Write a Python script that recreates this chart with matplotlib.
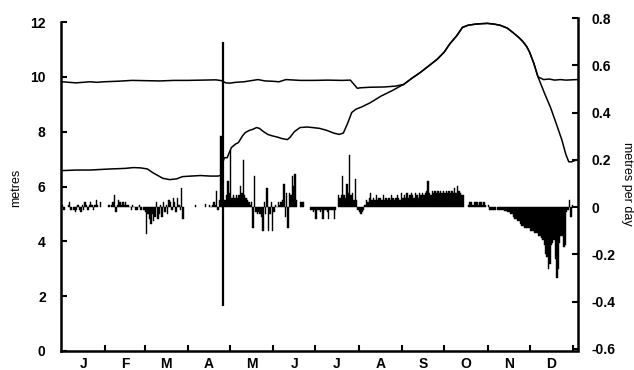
import matplotlib.pyplot as plt
import numpy as np

nan = np.nan

# month labels and lengths (days)
months = ['J', 'F', 'M', 'A', 'M', 'J', 'J', 'A', 'S', 'O', 'N', 'D']
month_len = [31, 28, 31, 30, 31, 30, 31, 31, 30, 31, 30, 31]

# upper level line (metres)
upper_day = [0, 5, 10, 15, 20, 25, 30, 40, 50, 60, 70, 80, 90, 100, 110, 114, 117, 120,
             124, 130, 140, 145, 150, 155, 160, 170, 180, 190, 200, 206, 207, 209, 211,
             213, 220, 230, 238, 244, 250, 256, 262, 268, 273, 277, 282, 286, 290, 295,
             300, 304, 309, 313, 318, 322, 326, 329, 332, 334, 337, 340, 342, 344, 348,
             352, 356, 360, 364, 368]
upper_m = [9.82, 9.8, 9.78, 9.8, 9.82, 9.8, 9.82, 9.84, 9.87, 9.86, 9.85, 9.87, 9.87, 9.88,
           9.89, 9.86, 9.78, 9.77, 9.8, 9.82, 9.9, 9.85, 9.84, 9.82, 9.9, 9.87, 9.87, 9.88,
           9.87, 9.88, 9.82, 9.7, 9.58, 9.6, 9.62, 9.63, 9.66, 9.72, 9.95, 10.16, 10.4,
           10.64, 10.9, 11.2, 11.5, 11.8, 11.88, 11.92, 11.94, 11.95, 11.92, 11.88, 11.78,
           11.62, 11.45, 11.3, 11.1, 10.9, 10.5, 10.0, 9.95, 9.9, 9.92, 9.88, 9.9, 9.88,
           9.89, 9.9]

# lower level line (metres)
lower_day = [0, 10, 20, 27, 35, 45, 51, 56, 61, 65, 72, 77, 82, 86, 92, 99, 106, 111, 114,
             115, 116, 118, 121, 124, 126, 129, 131, 134, 136, 139, 141, 144, 147, 150, 154,
             157, 161, 163, 166, 170, 175, 179, 184, 189, 194, 198, 201, 204, 207, 210, 214,
             220, 228, 236, 243, 244, 250, 256, 262, 268, 273, 277, 282, 286, 290, 295, 300,
             304, 309, 313, 318, 322, 326, 329, 332, 334, 337, 340, 345, 349, 353, 357, 360,
             362, 364, 368]
lower_m = [6.58, 6.6, 6.6, 6.62, 6.64, 6.66, 6.69, 6.68, 6.64, 6.5, 6.3, 6.25, 6.28, 6.36,
           6.38, 6.4, 6.38, 6.38, 6.4, 6.9, 7.05, 7.05, 7.42, 7.55, 7.6, 7.85, 7.97, 8.05,
           8.08, 8.15, 8.12, 8.0, 7.9, 7.85, 7.8, 7.75, 7.71, 7.8, 8.0, 8.15, 8.17, 8.15,
           8.12, 8.05, 7.95, 7.9, 7.95, 8.3, 8.7, 8.82, 8.9, 9.05, 9.3, 9.5, 9.7, 9.72, 9.95,
           10.16, 10.4, 10.64, 10.9, 11.2, 11.5, 11.8, 11.88, 11.92, 11.94, 11.95, 11.92,
           11.88, 11.78, 11.62, 11.45, 11.3, 11.1, 10.9, 10.5, 10.0, 9.36, 8.88, 8.3, 7.71,
           7.16, 6.9, 6.9, 6.98]

# daily change (metres per day), one value per day of each month
rate_jan = [0.01, -0.01, nan, nan, 0.01, 0.02, -0.01, nan, -0.01, -0.02,
            -0.01, 0.01, -0.01, -0.02, 0.01, -0.01, 0.02, 0.01, -0.01, 0.01,
            0.02, 0.01, -0.01, 0.01, 0.03, 0.01, nan, 0.02, nan, nan, nan]
rate_feb = [nan, nan, 0.01, nan, 0.01, 0.02, 0.05, -0.02, 0.01, 0.03,
            0.02, 0.01, 0.02, 0.01, 0.02, 0.01, 0.01, 0.0, -0.01, 0.01,
            0.0, -0.01, -0.01, 0.0, 0.01, -0.01, nan, -0.01]
rate_mar = [-0.02, -0.115, -0.03, -0.05, -0.07, -0.03, -0.06, -0.04, 0.02, -0.05,
            -0.03, 0.01, -0.04, 0.02, -0.02, 0.01, -0.03, 0.03, 0.02, -0.01,
            0.04, 0.02, -0.02, 0.04, 0.01, -0.01, 0.08, -0.05, nan, nan, nan]
rate_apr = [nan, nan, nan, nan, nan, 0.01, nan, nan, nan, nan,
            nan, nan, 0.015, nan, nan, 0.01, 0.0, 0.01, 0.02, 0.01,
            0.07, -0.01, 0.03, 0.30, 0.05, nan, 0.03, 0.05, 0.11, 0.06]
rate_may = [0.24, 0.04, 0.05, 0.04, 0.05, 0.04, 0.05, 0.09, 0.06, 0.20,
            0.05, 0.04, 0.03, 0.02, 0.01, 0.02, -0.09, 0.13, -0.02, -0.03,
            -0.02, -0.03, -0.04, -0.10, 0.02, -0.03, 0.08, -0.10, -0.03, 0.02, -0.10]
rate_jun = [-0.02, 0.01, 0.0, 0.02, 0.01, 0.02, 0.03, 0.10, -0.04, 0.06,
            -0.09, 0.06, 0.05, 0.13, 0.09, 0.14, 0.03, nan, nan, 0.02,
            0.02, 0.02, nan, nan, nan, nan, -0.01, -0.01, -0.02, -0.01]
rate_jul = [-0.05, -0.01, -0.01, -0.02, -0.01, -0.05, -0.01, -0.01, -0.02, -0.05,
            -0.01, -0.01, -0.01, -0.05, -0.01, nan, 0.05, 0.04, 0.05, 0.13,
            0.05, 0.04, 0.10, 0.06, 0.22, 0.05, 0.06, 0.03, 0.12, 0.03, -0.01]
rate_aug = [-0.02, -0.03, -0.02, -0.01, 0.01, 0.03, 0.02, 0.04, 0.06, 0.03,
            0.04, 0.03, 0.05, 0.03, 0.04, 0.04, 0.03, 0.05, 0.03, 0.04,
            0.03, 0.04, 0.03, 0.05, 0.04, 0.03, 0.04, 0.05, 0.04, 0.03, 0.06]
rate_sep = [0.04, 0.05, 0.04, 0.06, 0.04, 0.05, 0.06, 0.05, 0.04, 0.06,
            0.05, 0.04, 0.06, 0.05, 0.06, 0.05, 0.06, 0.07, 0.11, 0.06,
            0.05, 0.07, 0.06, 0.07, 0.06, 0.07, 0.06, 0.07, 0.06, 0.07]
rate_oct = [0.06, 0.07, 0.06, 0.07, 0.06, 0.07, 0.06, 0.08, 0.06, 0.09,
            0.07, 0.06, 0.05, 0.05, nan, nan, nan, 0.01, 0.02, 0.02,
            0.01, 0.02, 0.02, 0.02, 0.01, 0.02, 0.02, 0.01, 0.02, 0.01, nan]
rate_nov = [0.01, -0.01, -0.01, -0.01, -0.01, -0.01, nan, -0.01, -0.01, -0.01,
            -0.01, -0.01, -0.015, -0.015, -0.02, -0.02, -0.03, -0.03, -0.04, -0.05,
            -0.05, -0.06, -0.06, -0.07, -0.08, -0.08, -0.09, -0.09, -0.09, -0.09]
rate_dec = [-0.10, -0.10, -0.10, -0.11, -0.11, -0.11, -0.12, -0.12, -0.13, -0.14,
            -0.16, -0.20, -0.21, -0.26, -0.24, -0.16, -0.15, -0.14, -0.22, -0.30,
            -0.26, -0.15, -0.12, -0.12, -0.17, -0.16, -0.02, -0.01, 0.03, -0.04, 0.01]

# the single long spike in April
event_day = 115.3
event_low = -0.42
event_high = 0.70

rate = np.array(rate_jan + rate_feb + rate_mar + rate_apr + rate_may + rate_jun +
                rate_jul + rate_aug + rate_sep + rate_oct + rate_nov + rate_dec)
days = np.arange(len(rate))

plt.rcParams['font.family'] = ['Liberation Sans', 'DejaVu Sans']

fig = plt.figure(figsize=(6.34, 3.70), dpi=100)
ax = fig.add_axes([61 / 634, 1 - 351 / 370, 517 / 634, 329 / 370])
ax2 = fig.add_axes([61 / 634, 1 - 349 / 370, 517 / 634, 331 / 370], sharex=ax)
ax2.patch.set_visible(False)

ax.plot(upper_day, upper_m, color='black', lw=1.1)
ax.plot(lower_day, lower_m, color='black', lw=1.1)
ax.set_ylim(0, 12)
ax.set_yticks([0, 2, 4, 6, 8, 10, 12])

ax2.bar(days, rate, width=1.0, align='edge', color='black', edgecolor='black', lw=0.3)
ax2.vlines(event_day, event_low, event_high, color='black', lw=1.6)
ax2.set_ylim(-0.6, 0.8)
ax2.set_yticks([-0.6, -0.4, -0.2, 0, 0.2, 0.4, 0.6, 0.8])
ax2.set_yticklabels(['-0.6', '-0.4', '-0.2', '0', '0.2', '0.4', '0.6', '0.8'])

bounds = np.cumsum([0] + month_len)
ax.set_xlim(-0.7, 368.6)
ax.set_xticks(bounds[1:])
ax.set_xticklabels([])
ax.set_xticks((bounds[:-1] + bounds[1:]) / 2, minor=True)
ax.set_xticklabels(months, minor=True)

for s in ['top', 'right']:
    ax.spines[s].set_visible(False)
for s in ['top', 'left', 'bottom']:
    ax2.spines[s].set_visible(False)
for s in ['left', 'bottom']:
    ax.spines[s].set_linewidth(1.8)
ax2.spines['right'].set_linewidth(1.8)

ax.tick_params(axis='y', direction='in', length=4, width=1.5, pad=11, labelsize=10)
ax.tick_params(axis='x', which='major', direction='in', length=4, width=1.5)
ax.tick_params(axis='x', which='minor', length=0, pad=4, labelsize=10)
ax2.tick_params(axis='x', which='both', bottom=False, labelbottom=False)
ax2.tick_params(axis='y', left=False, labelleft=False, right=True, labelright=True,
                direction='in', length=4, width=1.5, pad=10, labelsize=10)
for lbl in ax.get_yticklabels() + ax.get_xticklabels(minor=True) + ax2.get_yticklabels():
    lbl.set_fontweight('bold')

fig.text(16 / 634, 1 - 188 / 370, 'metres', rotation=90, ha='center', va='center',
         fontsize=9)
fig.text(627 / 634, 1 - 184 / 370, 'metres per day', rotation=270, ha='center',
         va='center', fontsize=9)

fig.savefig('out.png', dpi=100)
